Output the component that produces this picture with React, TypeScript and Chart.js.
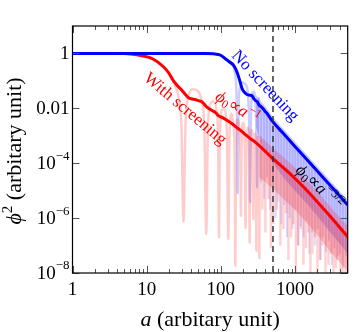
import React, { useEffect, useRef } from "react";
import { Chart, registerables } from "chart.js";
Chart.register(...registerables);

// ---- axes ----
const X_MIN = 1;
const X_MAX = 5150;
const Y_MIN = 1e-8;
const Y_MAX = 10;
const xTickValues = [1, 10, 100, 1000];
const xTickLabels = ["1", "10", "100", "1000"];
const yTickValues = [1, 1e-2, 1e-4, 1e-6, 1e-8];
const yTickBase = ["1", "0.01", "10", "10", "10"];
const yTickExp = ["", "", "−4", "−6", "−8"];
const markerA = 506;

// ---- solid curves ----
const blueA = [1, 30, 60, 80, 100, 115, 130, 149, 162, 174, 185, 194, 210, 226, 245, 263, 280, 295, 310, 330, 350, 370, 395, 421, 450, 506, 700, 1000, 1500, 2000, 3000, 4000, 5150];
const blueY = [1, 1, 0.995, 0.97, 0.86, 0.64, 0.5, 0.37, 0.24, 0.14, 0.08, 0.052, 0.038, 0.032, 0.03, 0.029, 0.022, 0.019, 0.0175, 0.013, 0.0115, 0.0098, 0.0078, 0.0065, 0.005, 0.0032, 1.2e-3, 4.1e-4, 1.23e-4, 5.2e-5, 1.54e-5, 6.5e-6, 3.0e-6];

const redA = [1, 5, 8, 12, 17, 20, 23, 27, 30, 34, 37, 41, 45, 50, 56, 65, 76, 85, 94, 105, 115, 128, 141, 160, 183, 215, 250, 289, 500, 870, 1367, 2500, 5150];
const redY = [1, 0.99, 0.85, 0.64, 0.32, 0.19, 0.1, 0.06, 0.045, 0.03, 0.024, 0.022, 0.021, 0.019, 0.017, 0.011, 0.0084, 0.007, 0.0053, 0.0046, 0.004, 0.0033, 0.0028, 0.0021, 0.0016, 0.0011, 7.9e-4, 6.0e-4, 1.5e-4, 4.0e-5, 1.2e-5, 2.0e-6, 2.1e-7];

// ---- light oscillating curves (sparse part) ----
const redOscA = [1, 5, 8, 12, 17, 21, 24, 27, 29.5, 31.4, 33.5, 37, 42, 48, 55, 60, 63.7, 67, 73, 80, 88, 92, 94.6, 97, 105, 112, 121, 126, 131, 140, 149, 154, 157, 160, 168, 176, 184, 187, 190, 200, 210, 216, 222, 232, 240, 245, 250, 262, 270, 275, 280, 290, 298, 302, 306, 318, 327, 331, 335, 345];
const redOscY = [1, 0.99, 0.85, 0.64, 0.32, 0.15, 0.07, 0.025, 0.002, 7.4e-7, 0.003, 0.03, 0.05, 0.045, 0.02, 0.002, 2.6e-7, 0.002, 0.015, 0.018, 0.008, 0.0008, 2.0e-7, 0.0008, 0.009, 0.009, 0.001, 1.7e-7, 0.001, 0.0065, 0.002, 0.0002, 1.8e-8, 0.0002, 0.004, 0.0025, 0.0002, 1.2e-6, 0.0002, 0.003, 0.0006, 4.3e-7, 0.0006, 0.002, 0.0004, 1.3e-7, 0.0004, 0.0016, 0.0003, 9.2e-7, 0.0003, 0.0012, 0.0002, 6.5e-8, 0.0002, 0.0009, 0.0001, 3.5e-8, 0.0001, 0.0007];

const blueOscA = [100, 115, 130, 145, 155, 162, 166, 169, 172, 180, 195, 210, 225, 238, 244, 248, 252, 262, 280, 298, 305, 309, 313, 322, 335];
const blueOscY = [0.86, 0.64, 0.5, 0.38, 0.2, 0.05, 0.003, 8.3e-6, 0.003, 0.05, 0.09, 0.08, 0.06, 0.01, 0.0005, 3.9e-6, 0.0005, 0.03, 0.04, 0.006, 0.0004, 1.3e-5, 0.0004, 0.02, 0.025];

// ---- dense spikes ----
const blueSpikeA = [350, 385, 420, 460, 505, 550, 600, 655, 715, 780, 850, 930, 1010, 1100, 1200, 1310, 1430, 1560, 1700, 1860, 2030, 2210, 2410, 2630, 2870, 3130, 3420, 3730, 4070, 4440, 4850];
const blueSpikeTop = [0.012, 0.009, 0.0068, 0.005, 0.0034, 0.0026, 0.002, 0.0015, 0.0012, 0.0009, 0.0007, 0.00053, 0.00041, 0.00032, 0.00025, 0.00019, 0.000145, 0.00011, 8.6e-5, 6.6e-5, 5.1e-5, 3.9e-5, 3.0e-5, 2.3e-5, 1.8e-5, 1.38e-5, 1.06e-5, 8.2e-6, 6.3e-6, 4.8e-6, 3.7e-6];
const blueSpikeLow = [2e-5, 5e-6, 3e-5, 2e-6, 8e-6, 1e-6, 4e-6, 6e-7, 3e-6, 2e-7, 1e-6, 4e-7, 2e-6, 1e-7, 5e-7, 2e-7, 8e-7, 5e-8, 3e-7, 1e-7, 4e-7, 3e-8, 2e-7, 6e-8, 1.5e-7, 2e-8, 8e-8, 3e-8, 5e-8, 1.5e-8, 4e-8];

const redSpikeA = [364, 400, 439, 475, 512, 570, 637, 700, 760, 817, 885, 955, 1030, 1114, 1200, 1302, 1410, 1521, 1620, 1722, 1860, 2012, 2180, 2353, 2583, 2835, 3050, 3313, 3580, 3873, 4120, 4385, 4810, 5050];
const redSpikeTop = [4.4e-4, 3.4e-4, 2.7e-4, 2.2e-4, 1.8e-4, 1.4e-4, 1.1e-4, 8.7e-5, 7.2e-5, 6.0e-5, 4.9e-5, 4.0e-5, 3.3e-5, 2.7e-5, 2.2e-5, 1.77e-5, 1.42e-5, 1.13e-5, 9.4e-6, 7.7e-6, 6.1e-6, 4.8e-6, 3.8e-6, 3.0e-6, 2.2e-6, 1.7e-6, 1.35e-6, 1.04e-6, 8.3e-7, 6.5e-7, 5.3e-7, 4.4e-7, 3.4e-7, 2.9e-7];
const redSpikeLow = [2e-6, 3e-7, 5e-6, 8e-8, 6e-7, 2e-6, 1e-7, 4e-7, 1.5e-6, 3e-8, 2e-7, 6e-7, 5e-9, 1e-7, 4e-7, 2e-8, 8e-8, 3e-7, 1e-8, 5e-8, 2e-7, 5e-9, 3e-8, 1e-7, 5e-9, 2e-8, 5e-8, 5e-9, 1.5e-8, 4e-8, 5e-9, 1e-8, 5e-9, 2e-8];

// ---- dense bands ----
const blueBandA = [300, 350, 420, 506, 700, 1000, 1500, 2000, 3000, 4000, 5150];
const blueBandHi = [0.03, 0.018, 0.0098, 0.0048, 0.0018, 6.2e-4, 1.85e-4, 7.8e-5, 2.3e-5, 9.8e-6, 4.5e-6];
const blueBandLo = [0.002, 5e-4, 2e-4, 1e-4, 3e-5, 1e-5, 3e-6, 1.2e-6, 3e-7, 1.2e-7, 5e-8];

const redBandA = [330, 400, 506, 700, 1000, 1500, 2000, 3000, 4000, 5150];
const redBandHi = [0.0011, 6.5e-4, 3.5e-4, 1.7e-4, 7e-5, 2.1e-5, 9.5e-6, 2.6e-6, 1.07e-6, 5.2e-7];
const redBandLo = [3e-5, 2e-5, 1.2e-5, 5e-6, 2e-6, 6e-7, 2.5e-7, 6e-8, 2.5e-8, 1.2e-8];

const SERIF = '"Liberation Serif", "Times New Roman", serif';
const BLUE = "#0000ff";
const RED = "#ff0000";
const LIGHT_BLUE = "rgba(0,0,255,0.2)";
const LIGHT_RED = "rgba(255,0,0,0.2)";
const SPIKE_BLUE = "rgba(0,0,255,0.14)";
const SPIKE_RED = "rgba(255,0,0,0.18)";

const pts = (xs: number[], ys: number[]) => xs.map((x, i) => ({ x, y: ys[i] }));
const band = (xs: number[], hi: number[], lo: number[]) => [...pts(xs, hi), ...pts(xs, lo).reverse()];
const spikes = (xs: number[], top: number[], low: number[]) =>
  xs.flatMap((x, i) => [{ x, y: top[i] }, { x, y: low[i] }, { x, y: null as any }]);

type Part = { t: string; font: string; dy?: number };

function drawRich(ctx: CanvasRenderingContext2D, parts: Part[], x: number, y: number, angleDeg: number, color: string) {
  ctx.save();
  ctx.translate(x, y);
  ctx.rotate((angleDeg * Math.PI) / 180);
  ctx.fillStyle = color;
  ctx.textBaseline = "middle";
  ctx.textAlign = "left";
  let total = 0;
  const widths = parts.map((p) => {
    ctx.font = p.font;
    const w = ctx.measureText(p.t).width;
    total += w;
    return w;
  });
  let cx = -total / 2;
  parts.forEach((p, i) => {
    ctx.font = p.font;
    ctx.fillText(p.t, cx, p.dy || 0);
    cx += widths[i];
  });
  ctx.restore();
}

const decorPlugin = {
  id: "decor",
  afterDatasetsDraw(chart: any) {
    const { ctx, chartArea: ca, scales } = chart;
    const xs = scales.x;
    const ys = scales.y;
    ctx.save();

    // dashed marker
    const dx = xs.getPixelForValue(markerA);
    ctx.strokeStyle = "#333";
    ctx.lineWidth = 1.5;
    ctx.setLineDash([6, 4]);
    ctx.beginPath();
    ctx.moveTo(dx, ca.top);
    ctx.lineTo(dx, ca.bottom);
    ctx.stroke();
    ctx.setLineDash([]);

    // ticks
    ctx.strokeStyle = "#555";
    ctx.lineWidth = 1;
    for (let d = 1; d <= 1000; d *= 10) {
      for (let m = 1; m <= 9; m++) {
        const v = d * m;
        if (v > X_MAX) break;
        const px = Math.round(xs.getPixelForValue(v)) + 0.5;
        const len = m === 1 ? 7 : 4;
        ctx.beginPath();
        ctx.moveTo(px, ca.bottom);
        ctx.lineTo(px, ca.bottom - len);
        ctx.moveTo(px, ca.top);
        ctx.lineTo(px, ca.top + len);
        ctx.stroke();
      }
    }
    yTickValues.forEach((v) => {
      const py = Math.round(ys.getPixelForValue(v)) + 0.5;
      ctx.beginPath();
      ctx.moveTo(ca.left, py);
      ctx.lineTo(ca.left + 7, py);
      ctx.moveTo(ca.right, py);
      ctx.lineTo(ca.right - 7, py);
      ctx.stroke();
    });

    // frame
    ctx.strokeStyle = "#000";
    ctx.lineWidth = 1.2;
    ctx.strokeRect(ca.left, ca.top, ca.right - ca.left, ca.bottom - ca.top);

    // tick labels
    ctx.fillStyle = "#000";
    ctx.font = `19px ${SERIF}`;
    ctx.textAlign = "center";
    ctx.textBaseline = "alphabetic";
    xTickValues.forEach((v, i) => {
      ctx.fillText(xTickLabels[i], xs.getPixelForValue(v), ca.bottom + 22);
    });
    yTickValues.forEach((v, i) => {
      const py = ys.getPixelForValue(v);
      const right = ca.left - 3;
      ctx.textBaseline = "middle";
      ctx.textAlign = "right";
      if (yTickExp[i]) {
        ctx.font = `13px ${SERIF}`;
        const we = ctx.measureText(yTickExp[i]).width;
        ctx.fillText(yTickExp[i], right, py - 7);
        ctx.font = `19px ${SERIF}`;
        ctx.fillText(yTickBase[i], right - we, py + 1);
      } else {
        ctx.font = `19px ${SERIF}`;
        ctx.fillText(yTickBase[i], right, py + 1);
      }
    });

    // axis titles
    ctx.textBaseline = "alphabetic";
    ctx.textAlign = "left";
    {
      const parts = [
        { t: "a", font: `italic 22px ${SERIF}` },
        { t: " (arbitary unit)", font: `22px ${SERIF}` },
      ];
      let total = 0;
      parts.forEach((p) => { ctx.font = p.font; total += ctx.measureText(p.t).width; });
      let cx = (ca.left + ca.right) / 2 - total / 2 + 0;
      parts.forEach((p) => { ctx.font = p.font; ctx.fillText(p.t, cx, 326); cx += ctx.measureText(p.t).width; });
    }
    {
      ctx.save();
      ctx.translate(21, 151);
      ctx.rotate(-Math.PI / 2);
      const parts = [
        { t: "ϕ", font: `italic 22px ${SERIF}`, dy: 0 },
        { t: "2", font: `15px ${SERIF}`, dy: -9 },
        { t: " (arbitary unit)", font: `22px ${SERIF}`, dy: 0 },
      ];
      let total = 0;
      parts.forEach((p) => { ctx.font = p.font; total += ctx.measureText(p.t).width; });
      let cx = -total / 2;
      parts.forEach((p) => { ctx.font = p.font; ctx.fillText(p.t, cx, p.dy); cx += ctx.measureText(p.t).width; });
      ctx.restore();
    }

    // annotations
    drawRich(ctx, [{ t: "No screening", font: `17px ${SERIF}` }], xs.getPixelForValue(395), ys.getPixelForValue(0.065), 47, BLUE);
    drawRich(ctx, [{ t: "With screening", font: `17px ${SERIF}` }], xs.getPixelForValue(33), ys.getPixelForValue(0.0094), 40, RED);
    drawRich(
      ctx,
      [
        { t: "ϕ", font: `italic 17px ${SERIF}` },
        { t: "0", font: `12px ${SERIF}`, dy: 4 },
        { t: "∝", font: `17px ${SERIF}` },
        { t: "a", font: `italic 17px ${SERIF}` },
        { t: "−1", font: `12px ${SERIF}`, dy: -6 },
      ],
      xs.getPixelForValue(165), ys.getPixelForValue(0.0102), 32, RED
    );
    drawRich(
      ctx,
      [
        { t: "ϕ", font: `italic 17px ${SERIF}` },
        { t: "0", font: `12px ${SERIF}`, dy: 4 },
        { t: "∝", font: `17px ${SERIF}` },
        { t: "a", font: `italic 17px ${SERIF}` },
        { t: "−3/2", font: `12px ${SERIF}`, dy: -6 },
      ],
      xs.getPixelForValue(2100), ys.getPixelForValue(1.3e-5), 43, "#000"
    );

    ctx.restore();
  },
};

export default function App() {
  const ref = useRef<HTMLCanvasElement | null>(null);
  useEffect(() => {
    if (!ref.current) return;
    const chart = new Chart(ref.current, {
      type: "line",
      data: {
        datasets: [
          { data: pts(blueA, blueY), borderColor: BLUE, borderWidth: 3, cubicInterpolationMode: "monotone", fill: false } as any,
          { data: pts(redA, redY), borderColor: RED, borderWidth: 3, cubicInterpolationMode: "monotone", fill: false } as any,
          { data: pts(redOscA, redOscY), borderColor: LIGHT_RED, borderWidth: 2.5, cubicInterpolationMode: "monotone", fill: false } as any,
          { data: spikes(redSpikeA, redSpikeTop, redSpikeLow), borderColor: SPIKE_RED, borderWidth: 2.5, spanGaps: false, fill: false } as any,
          { data: band(redBandA, redBandHi, redBandLo), borderWidth: 0, borderColor: "rgba(0,0,0,0)", backgroundColor: LIGHT_RED, fill: "shape", tension: 0 } as any,
          { data: pts(blueOscA, blueOscY), borderColor: LIGHT_BLUE, borderWidth: 2.5, cubicInterpolationMode: "monotone", fill: false } as any,
          { data: spikes(blueSpikeA, blueSpikeTop, blueSpikeLow), borderColor: SPIKE_BLUE, borderWidth: 2, spanGaps: false, fill: false } as any,
          { data: band(blueBandA, blueBandHi, blueBandLo), borderWidth: 0, borderColor: "rgba(0,0,0,0)", backgroundColor: LIGHT_BLUE, fill: "shape", tension: 0 } as any,
        ],
      },
      options: {
        animation: false,
        responsive: true,
        maintainAspectRatio: false,
        devicePixelRatio: 1,
        layout: { padding: { left: 72.5, right: 9.3, top: 26, bottom: 59 } },
        elements: { point: { radius: 0, hoverRadius: 0 } },
        plugins: { legend: { display: false }, tooltip: { enabled: false } },
        events: [],
        scales: {
          x: { type: "logarithmic", min: X_MIN, max: X_MAX, display: false },
          y: { type: "logarithmic", min: Y_MIN, max: Y_MAX, display: false },
        },
      },
      plugins: [decorPlugin],
    });
    return () => chart.destroy();
  }, []);
  return (
    <div style={{ position: "absolute", left: 0, top: 0, width: 357, height: 332, background: "#fff" }}>
      <canvas ref={ref} />
    </div>
  );
}
